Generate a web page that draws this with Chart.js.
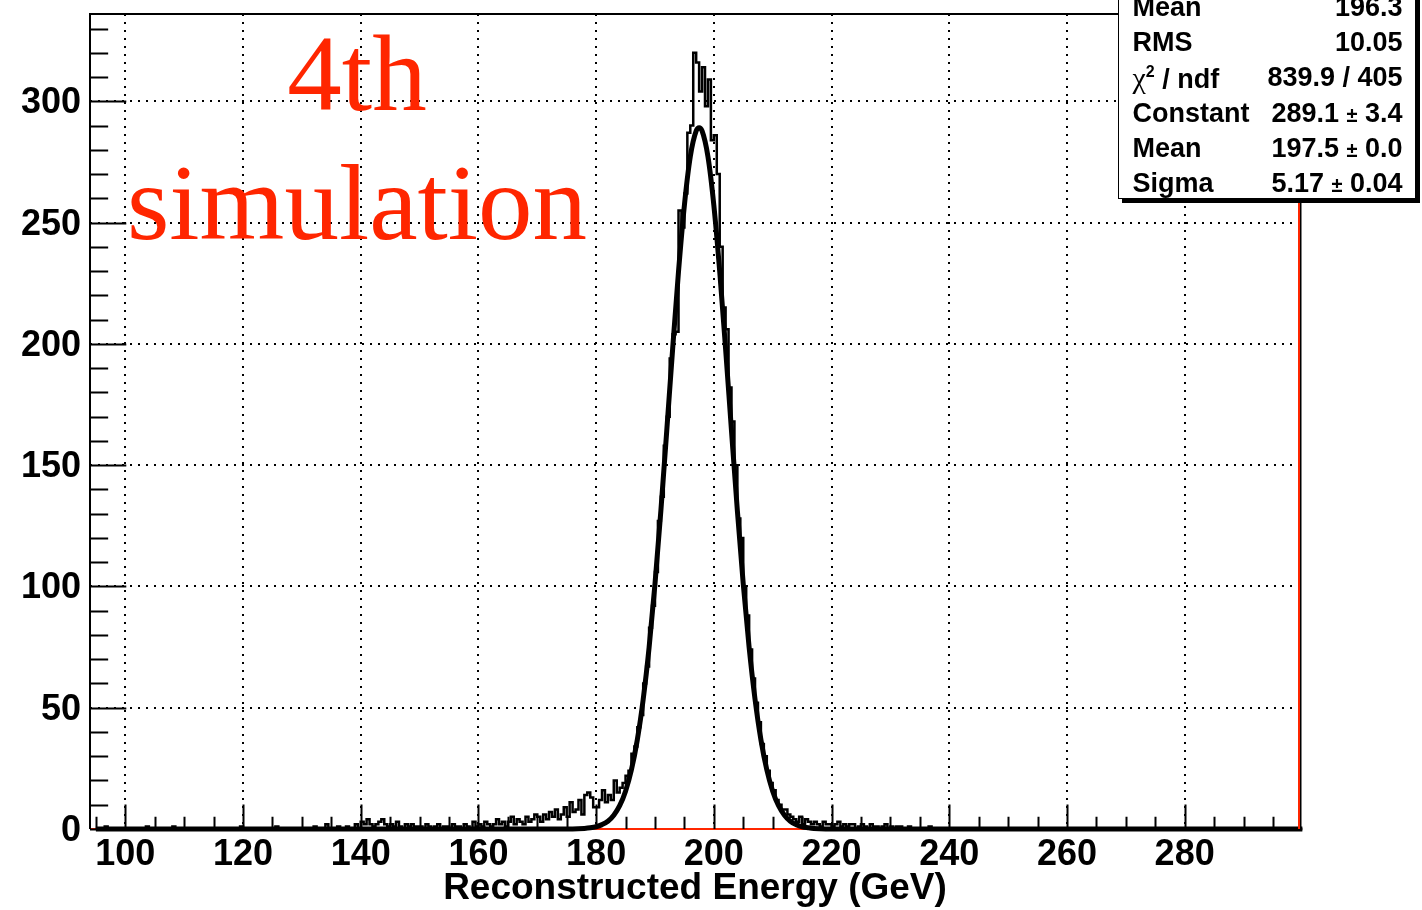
<!DOCTYPE html>
<html>
<head>
<meta charset="utf-8">
<script src="https://cdn.jsdelivr.net/npm/chart.js@4.4.0/dist/chart.umd.min.js"></script>
<style>
  html, body { margin: 0; padding: 0; background: #fff; }
  #wrap { position: relative; width: 1422px; height: 910px; overflow: hidden; }
  #c { position: absolute; left: 0; top: 0; }
  .big { position: absolute; font-family: 'Liberation Serif', 'Times New Roman', serif; color: #ff2600;
         font-size: 109px; line-height: 108px; white-space: nowrap; transform: translateX(-50%); }
  #stats { position: absolute; left: 1118px; top: -12px; width: 296px; height: 209px; background: #fff;
           border: 1.5px solid #000; box-shadow: 4px 4px 0 #000;
           font-family: 'Liberation Sans', Arial, sans-serif; font-weight: bold; font-size: 27px; color: #000; }
  .row { position: absolute; left: 13.5px; right: 12.5px; height: 35px; line-height: 35px; white-space: nowrap; }
  .row .v { position: absolute; right: 0; top: 0; }
  .pm { font-size: 20px; }
  .chi { font-family: 'Liberation Serif', serif; font-weight: normal; font-size: 30px; }
  sup { font-size: 16px; vertical-align: 11px; line-height: 0; }
</style>
</head>
<body>
<div id="wrap">
  <canvas id="c" width="1422" height="910"></canvas>
  <div class="big" style="left:357px;top:20px;">4th</div>
  <div class="big" style="left:357px;top:149px;">simulation</div>
  <div id="stats"></div>
</div>
<script>
// axis ranges and tick labels
const xMin = 94, xMax = 299.6, yMin = 0, yMax = 336;
const xMajor = [100, 120, 140, 160, 180, 200, 220, 240, 260, 280];
const yMajor = [0, 50, 100, 150, 200, 250, 300];
const xMinorStep = 5, yMinorStep = 10;

// histogram: 0.5 GeV bins, dense part from 140 GeV
const binWidth = 0.5, histLo = 95, histHi = 300;
const coreStart = 140;
const coreCounts = [
  3, 2, 4, 2, 1, 2, 3, 4, 2, 1,          // 140
  2, 1, 3, 1, 0, 2, 1, 2, 1, 1,          // 145
  1, 0, 2, 1, 0, 1, 2, 0, 1, 1,          // 150
  0, 2, 1, 1, 0, 2, 1, 0, 3, 1,          // 155
  2, 1, 3, 2, 1, 2, 4, 2, 3, 1,          // 160
  3, 5, 2, 4, 3, 2, 5, 3, 4, 6,          // 165
  5, 3, 6, 4, 7, 5, 8, 4, 6, 9,          // 170
  5, 11, 7, 8, 12, 6, 14, 15, 13, 9,     // 175
  9, 12, 16, 11, 14, 12, 20, 15, 17, 19, // 180
  22, 24, 31, 34, 42, 47, 60, 67, 83, 92,          // 185
  106, 127, 137, 158, 170, 194, 204, 205, 255, 248, // 190
  262, 287, 290, 320, 316, 304, 314, 298, 309, 284, // 195
  286, 270, 240, 215, 206, 182, 168, 150, 128, 120, // 200
  100, 88, 74, 62, 52, 44, 35, 30, 24, 19,          // 205
  16, 12, 10, 8, 8, 6, 5, 4, 3, 5,       // 210
  2, 4, 3, 2, 3, 2, 1, 3, 2, 2,          // 215
  1, 2, 3, 1, 2, 1, 2, 2, 0, 1,          // 220
  2, 1, 0, 2, 1, 1, 0, 1, 2, 0,          // 225
  1, 0, 1, 1                             // 230
];
// isolated entries outside the dense part
const tailX = [96.5, 103.5, 108, 119.5, 125.5, 132, 134, 136, 137.5, 139, 233, 236.5];
const tailN = [1, 1, 1, 1, 1, 1, 2, 1, 1, 2, 1, 1];

// gaussian fit curve
const fitX = [95, 176, 178, 179, 180, 181, 182, 183, 184, 185, 186, 187, 188, 189, 190, 191, 192, 193, 194, 195, 196, 197,
              197.5, 198, 199, 200, 201, 202, 203, 204, 205, 206, 207, 208, 209, 210, 211, 212, 213, 214, 215, 216, 217, 219, 300];
const fitY = [0, 0.05, 0.24, 0.48, 0.94, 1.8, 3.2, 5.7, 9.6, 15.6, 24.4, 36.8, 53.5, 74.8, 101.0, 131.2, 164.2, 197.9, 229.9, 257.2, 277.2, 287.8,
              289.1, 287.8, 277.2, 257.2, 229.9, 197.9, 164.2, 131.2, 101.0, 74.8, 53.5, 36.8, 24.4, 15.6, 9.6, 5.7, 3.2, 1.8, 0.9, 0.5, 0.2, 0.05, 0];

// stats box text
const statRows = [
  ['Mean', '196.3'],
  ['RMS', '10.05'],
  ['<span class="chi">&chi;</span><sup>2</sup> / ndf', '839.9 / 405'],
  ['Constant', '289.1 <span class="pm">&plusmn;</span> 3.4'],
  ['Mean', '197.5 <span class="pm">&plusmn;</span> 0.0'],
  ['Sigma', '5.17 <span class="pm">&plusmn;</span> 0.04']
];

const stats = document.getElementById('stats');
statRows.forEach((r, i) => {
  const d = document.createElement('div');
  d.className = 'row';
  d.style.top = (1 + i * 35.2) + 'px';
  d.innerHTML = '<span>' + r[0] + '</span><span class="v">' + r[1] + '</span>';
  stats.appendChild(d);
});

// build the step points for the histogram
const histPts = [];
const nBins = Math.round((histHi - histLo) / binWidth);
for (let i = 0; i < nBins; i++) {
  const lo = histLo + i * binWidth;
  let n = 0;
  const k = Math.round((lo - coreStart) / binWidth);
  if (k >= 0 && k < coreCounts.length) n = coreCounts[k];
  else {
    const j = tailX.indexOf(lo);
    if (j >= 0) n = tailN[j];
  }
  histPts.push({ x: lo, y: n });
}
histPts.push({ x: histHi, y: 0 });

const fitPts = fitX.map((x, i) => ({ x, y: fitY[i] }));

const RED = '#ff2600';
const tickFont = { family: "'Liberation Sans', Arial, sans-serif", size: 36, weight: 'bold' };
const titleFont = { family: "'Liberation Sans', Arial, sans-serif", size: 37, weight: 'bold', lineHeight: 1 };

// ROOT-like frame with inward ticks
const rootFrame = {
  id: 'rootFrame',
  beforeDatasetsDraw(chart) {
    const { ctx, chartArea: a } = chart;
    ctx.save();
    ctx.strokeStyle = RED; ctx.lineWidth = 2;
    ctx.beginPath(); ctx.moveTo(a.left, a.bottom); ctx.lineTo(a.right, a.bottom); ctx.stroke();
    ctx.restore();
  },
  afterDatasetsDraw(chart) {
    const { ctx, chartArea: a, scales: { x, y } } = chart;
    const h = a.bottom - a.top, w = a.right - a.left;
    ctx.save();
    ctx.strokeStyle = '#000'; ctx.lineWidth = 2;
    ctx.beginPath();
    ctx.moveTo(a.left, a.bottom); ctx.lineTo(a.left, a.top); ctx.lineTo(a.right, a.top);
    ctx.stroke();
    // x ticks
    ctx.beginPath();
    for (let v = 95; v < xMax; v += xMinorStep) {
      const px = Math.round(x.getPixelForValue(v)) + 0.5;
      const len = xMajor.includes(v) ? h * 0.03 : h * 0.015;
      ctx.moveTo(px, a.bottom); ctx.lineTo(px, a.bottom - len);
    }
    // y ticks
    for (let v = 0; v < yMax; v += yMinorStep) {
      const py = Math.round(y.getPixelForValue(v)) + 0.5;
      const len = yMajor.includes(v) ? w * 0.03 : w * 0.015;
      ctx.moveTo(a.left, py); ctx.lineTo(a.left + len, py);
    }
    ctx.stroke();
    // right edge: red line with dark outer edge
    ctx.strokeStyle = RED; ctx.lineWidth = 2;
    ctx.beginPath(); ctx.moveTo(a.right - 1, a.top); ctx.lineTo(a.right - 1, a.bottom); ctx.stroke();
    ctx.strokeStyle = '#000'; ctx.lineWidth = 1.5;
    ctx.beginPath(); ctx.moveTo(a.right + 0.75, a.top); ctx.lineTo(a.right + 0.75, a.bottom + 2); ctx.stroke();
    ctx.restore();
  }
};

new Chart(document.getElementById('c'), {
  type: 'line',
  data: {
    datasets: [
      { data: histPts, stepped: true, borderColor: '#000', borderWidth: 2.5, pointRadius: 0, fill: false, clip: false },
      { data: fitPts, cubicInterpolationMode: 'monotone', borderColor: '#000', borderWidth: 5, pointRadius: 0, fill: false, clip: false }
    ]
  },
  options: {
    responsive: false, animation: false, devicePixelRatio: 1,
    layout: { padding: { left: 0, right: 122, top: 14, bottom: 0 } },
    plugins: { legend: { display: false }, tooltip: { enabled: false } },
    scales: {
      x: {
        type: 'linear', min: xMin, max: xMax,
        afterBuildTicks: s => { s.ticks = xMajor.map(v => ({ value: v })); },
        afterFit: s => { s.height = 81; s.paddingLeft = 0; s.paddingRight = 0; },
        grid: { color: '#000', lineWidth: 2, drawTicks: false },
        border: { display: false, dash: [2, 6] },
        ticks: { color: '#000', font: tickFont, padding: 4, maxRotation: 0, autoSkip: false },
        title: { display: true, text: 'Reconstructed Energy (GeV)', color: '#000', font: titleFont, padding: { top: 0, bottom: 3 } }
      },
      y: {
        type: 'linear', min: yMin, max: yMax,
        afterBuildTicks: s => { s.ticks = yMajor.map(v => ({ value: v })); },
        afterFit: s => { s.width = 90; s.paddingTop = 0; s.paddingBottom = 0; },
        grid: { color: '#000', lineWidth: 2, drawTicks: false },
        border: { display: false, dash: [2, 6] },
        ticks: { color: '#000', font: tickFont, padding: 9, labelOffset: 2, autoSkip: false }
      }
    }
  },
  plugins: [rootFrame]
});
</script>
</body>
</html>
